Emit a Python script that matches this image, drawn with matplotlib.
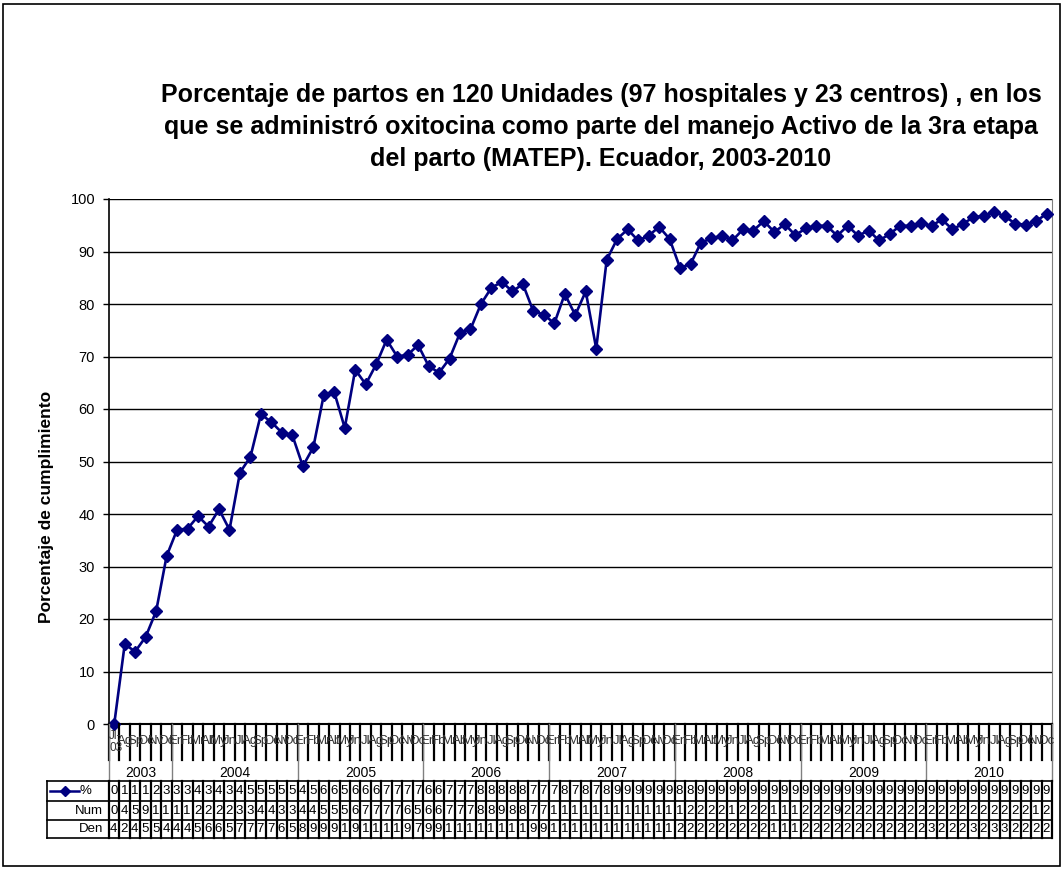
import matplotlib
matplotlib.use('Agg')
import matplotlib.pyplot as plt
import matplotlib.transforms as mtransforms
from matplotlib.lines import Line2D
from matplotlib.patches import Rectangle

W, H = 1064, 869

title = ("Porcentaje de partos en 120 Unidades (97 hospitales y 23 centros) , en los\n"
         "que se administró oxitocina como parte del manejo Activo de la 3ra etapa\n"
         "del parto (MATEP). Ecuador, 2003-2010")
ylabel = "Porcentaje de cumplimiento"

years = ['2003', '2004', '2005', '2006', '2007', '2008', '2009', '2010']
months_per_year = [6, 12, 12, 12, 12, 12, 12, 12]
month_abbr = ['En', 'Fb', 'Mr', 'Ab', 'My', 'Jn', 'Jl', 'Ag', 'Sp', 'Oc', 'Nv', 'Dc']

# monthly % (Jul 2003 - Dec 2010)
pct = [0.0, 15.2, 13.8, 16.6, 21.5, 32.0,
       37.0, 37.2, 39.6, 37.6, 40.9, 37.0, 47.9, 50.9, 59.0, 57.5, 55.5, 55.0,
       49.1, 52.7, 62.7, 63.2, 56.4, 67.5, 64.7, 68.5, 73.2, 70.0, 70.3, 72.2,
       68.2, 66.9, 69.6, 74.5, 75.2, 80.0, 83.1, 84.2, 82.4, 83.8, 78.6, 78.0,
       76.3, 81.9, 77.9, 82.4, 71.5, 88.4, 92.4, 94.2, 92.1, 93.0, 94.7, 92.4,
       86.9, 87.6, 91.7, 92.5, 93.0, 92.1, 94.2, 94.0, 95.8, 93.7, 95.2, 93.1,
       94.4, 94.9, 94.9, 93.0, 94.9, 93.0, 94.0, 92.1, 93.3, 94.9, 94.9, 95.4,
       94.9, 96.1, 94.2, 95.3, 96.5, 96.8, 97.5, 96.7, 95.3, 95.1, 95.8, 97.2]

# data table cells are too narrow, only the first digit shows
num_first = ("0459111122223344334455567777" "65667778898877" "1111111111111" "222"
             "212221112229" "222222222222222222" "12")
den_first = ("4245544456657777658999191111" "97991111111199" "111111111111" "2222"
             "22222111" "222222222222" "3222" "3233" "2222")

navy = '#000080'
def fy(y):
    return 1 - y / H

fig = plt.figure(figsize=(W / 100, H / 100), dpi=100)
plt.rcParams['font.family'] = ['Liberation Sans', 'DejaVu Sans']

ax = fig.add_axes([109 / W, fy(724), (1052 - 109) / W, (724 - 199) / H])
x = list(range(len(pct)))
ax.plot(x, pct, color=navy, lw=1.9, marker='D', ms=6, clip_on=False, zorder=5)
ax.set_xlim(-0.5, len(pct) - 0.5)
ax.set_ylim(0, 100)
ax.set_yticks(range(0, 101, 10))
ax.set_xticks([])
ax.tick_params(axis='y', labelsize=10.5, length=4, width=1, pad=6)
ax.yaxis.grid(True, color='black', lw=1)
ax.set_axisbelow(True)
ax.spines['top'].set_visible(False)
ax.spines['right'].set_color('#808080')
ax.spines['left'].set_linewidth(1.2)
ax.spines['bottom'].set_linewidth(1.5)

fig.text(47 / W, fy(507), ylabel, rotation=90, ha='center', va='center',
         fontsize=12.5, fontweight='bold')

fig.text(601 / W, fy(127), title, ha='center', va='center', fontsize=18,
         fontweight='bold', linespacing=1.42)

tr = mtransforms.blended_transform_factory(ax.transData, fig.transFigure)
n = len(pct)

# month ticks and labels
for i in range(n + 1):
    fig.add_artist(Line2D([i - 0.5, i - 0.5], [fy(724), fy(760)], transform=tr,
                          color='black', lw=1.6))
labels = []
for yi, cnt in enumerate(months_per_year):
    start = 12 - cnt
    for m in range(cnt):
        labels.append(month_abbr[start + m])
for i, lab in enumerate(labels):
    if i == 0:
        fig.text(i - 0.48, fy(742), 'Jl-\n03', transform=tr, ha='left', va='center',
                 fontsize=8.5, color='#333333', linespacing=1.0)
    else:
        fig.text(i, fy(741), lab, transform=tr, ha='center', va='center',
                 fontsize=9.5, color='#333333')

# year row
pos = 0
bounds = [0]
for yr, cnt in zip(years, months_per_year):
    fig.text(pos + cnt / 2 - 0.5, fy(773), yr, transform=tr, ha='center',
             va='center', fontsize=10)
    pos += cnt
    bounds.append(pos)
for b in bounds:
    fig.add_artist(Line2D([b - 0.5, b - 0.5], [fy(724), fy(781)], transform=tr,
                          color='#808080', lw=1))

# data table
row_lines = [781, 801, 820, 838]
for yl in row_lines:
    fig.add_artist(Line2D([47 / W, 1052 / W], [fy(yl), fy(yl)],
                          transform=fig.transFigure, color='black', lw=1.2))
fig.add_artist(Line2D([47 / W, 47 / W], [fy(781), fy(838)],
                      transform=fig.transFigure, color='black', lw=1.2))
for i in range(n + 1):
    fig.add_artist(Line2D([i - 0.5, i - 0.5], [fy(781), fy(838)], transform=tr,
                          color='black', lw=1.6))

pct_first = [str(int(round(v)))[0] for v in pct]
rows = [(pct_first, 791), (num_first, 811), (den_first, 829)]
for vals, yc in rows:
    for i, d in enumerate(vals):
        fig.text(i - 0.4, fy(yc), d, transform=tr, ha='left', va='center',
                 fontsize=9.5)

fig.add_artist(Line2D([50 / W, 79 / W], [fy(791), fy(791)], transform=fig.transFigure,
                      color=navy, lw=1.8))
fig.add_artist(Line2D([65 / W], [fy(791)], transform=fig.transFigure,
                      color=navy, marker='D', ms=5))
fig.text(80 / W, fy(791), '%', ha='left', va='center', fontsize=9.5)
fig.text(103 / W, fy(811), 'Num', ha='right', va='center', fontsize=9.5)
fig.text(103 / W, fy(829), 'Den', ha='right', va='center', fontsize=9.5)

# chart area border
fig.add_artist(Rectangle((3 / W, 3 / H), (W - 7) / W, (H - 7) / H,
                         transform=fig.transFigure, fill=False, ec='black', lw=1.2))

fig.savefig('out.png', dpi=100)
